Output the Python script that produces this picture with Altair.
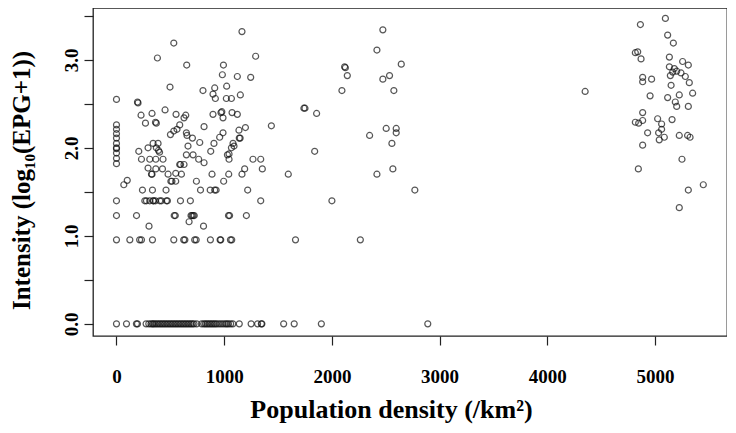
import altair as alt
import pandas as pd

# ---- data ----
# points with intensity 0
zero_x = [0, 93, 185, 195, 275, 300, 320, 335, 345, 360, 375, 390, 405, 420, 435, 450, 465,
          480, 495, 510, 525, 540, 555, 570, 585, 600, 615, 630, 645, 660, 675, 690, 705,
          720, 745, 790, 810, 825, 840, 855, 870, 885, 900, 915, 930, 950, 970, 990, 1010,
          1025, 1040, 1060, 1080, 1140, 1250, 1310, 1345, 1350, 1552, 1650, 1902, 2890]
# rows of repeated intensity levels
row095_x = [0, 124, 215, 232, 334, 532, 624, 635, 726, 740, 872, 962, 968, 1058, 1070, 1662, 2264]
row123_x = [0, 186, 536, 546, 692, 702, 712, 722, 1040, 1050, 1206]
row140_x = [0, 263, 278, 309, 340, 345, 362, 402, 417, 464, 473, 594, 686, 1339, 2000]
row152_x = [241, 334, 460, 780, 870, 912, 925, 1218, 2770]
# stack at density 0
stack0_y = [2.55, 2.26, 2.21, 2.16, 2.11, 2.05, 2.0, 1.99, 1.94, 1.88, 1.82]

# low-density scatter
low_x = [302, 674, 808, 68, 100, 325, 330, 479, 550, 603, 887, 1042, 1165,
         505, 515, 550, 742, 995, 293, 365, 427, 1190, 1354, 587, 595, 627, 813,
         232, 309, 365, 432, 763, 1045, 1267, 1339, 649, 711, 1030, 1045, 207, 875,
         293, 370, 390, 400, 664, 1067, 1091, 340, 386, 773, 905, 1082,
         705, 958, 1140, 1148, 501, 649, 655, 989, 532, 562, 1137, 1197, 813, 1438,
         269, 362, 370, 587, 627, 989, 228, 330, 451, 553, 643, 896, 970, 978, 1073, 1122,
         195, 200, 918, 1020, 1067, 497, 803, 912, 896, 1023, 1150,
         983, 1122, 1246, 652, 993, 1292, 380, 532, 1165]
low_y = [1.11, 1.16, 1.11, 1.58, 1.63, 1.70, 1.70, 1.70, 1.71, 1.70, 1.70, 1.70, 1.70,
         1.62, 1.62, 1.62, 1.62, 1.62, 1.77, 1.76, 1.76, 1.76, 1.76, 1.81, 1.81, 1.81, 1.83,
         1.87, 1.87, 1.87, 1.87, 1.87, 1.87, 1.87, 1.87, 1.92, 1.92, 1.92, 1.93, 1.96, 1.96,
         2.0, 2.0, 1.97, 1.95, 2.02, 2.0, 2.02, 2.05, 2.05, 2.06, 2.05, 2.05,
         2.11, 2.12, 2.11, 2.11, 2.15, 2.17, 2.14, 2.17, 2.19, 2.21, 2.20, 2.23, 2.24, 2.25,
         2.28, 2.29, 2.28, 2.26, 2.34, 2.34, 2.37, 2.39, 2.43, 2.38, 2.37, 2.38, 2.40, 2.41, 2.40, 2.38,
         2.52, 2.51, 2.56, 2.56, 2.56, 2.69, 2.65, 2.68, 2.61, 2.70, 2.60,
         2.83, 2.81, 2.80, 2.94, 2.94, 3.04, 3.02, 3.19, 3.32]

# middle-density scatter
mid_x = [1595, 1740, 1750, 1858, 1840, 2093, 2118, 2125, 2143, 2350, 2418, 2418, 2473,
         2473, 2535, 2575, 2504, 2597, 2597, 2557, 2566, 2644, 4351]
mid_y = [1.70, 2.45, 2.45, 2.39, 1.96, 2.65, 2.92, 2.91, 2.82, 2.14, 1.70, 3.11, 3.34,
         2.78, 2.82, 2.65, 2.22, 2.22, 2.17, 2.05, 1.76, 2.95, 2.64]

# high-density cluster
high_x = [5096, 4864, 5117, 5170, 4817, 4839, 4870, 5133, 5256, 5309,
          5133, 5179, 5201, 5164, 5241, 5281, 5142, 4885, 4885, 4968, 5318, 5149,
          5349, 5225, 4954, 5117, 5188, 5201, 5309, 4885, 4817, 4848, 4885, 5024,
          5061, 5158, 5061, 5033, 5039, 5086, 4931, 5225, 5302, 5325, 4885, 5250,
          4845, 5448, 5309, 5225]
high_y = [3.47, 3.40, 3.28, 3.19, 3.08, 3.09, 3.01, 3.03, 2.98, 2.94,
          2.92, 2.90, 2.87, 2.86, 2.85, 2.81, 2.82, 2.80, 2.75, 2.78, 2.74, 2.71,
          2.62, 2.60, 2.59, 2.57, 2.52, 2.47, 2.47, 2.40, 2.29, 2.28, 2.31, 2.33,
          2.27, 2.32, 2.21, 2.17, 2.09, 2.12, 2.17, 2.14, 2.14, 2.12, 2.03, 1.87,
          1.76, 1.58, 1.52, 1.32]

x_ticks = [0, 1000, 2000, 3000, 4000, 5000]
y_ticks = [0, 0.5, 1.0, 1.5, 2.0, 2.5, 3.0, 3.5]

# ---- assemble ----
xs, ys = [], []
xs += zero_x; ys += [0.0] * len(zero_x)
xs += row095_x; ys += [0.954] * len(row095_x)
xs += row123_x; ys += [1.23] * len(row123_x)
xs += row140_x; ys += [1.398] * len(row140_x)
xs += row152_x; ys += [1.52] * len(row152_x)
xs += [0] * len(stack0_y); ys += stack0_y
xs += low_x; ys += low_y
xs += mid_x; ys += mid_y
xs += high_x; ys += high_y
df = pd.DataFrame({"density": xs, "intensity": ys})

FONT = "Liberation Serif"

chart = alt.Chart(df).mark_point(
    shape="circle", filled=False, color="#111111", size=36, strokeWidth=1.2
).encode(
    x=alt.X("density:Q",
            scale=alt.Scale(domain=[-218, 5668], nice=False, zero=False),
            axis=alt.Axis(values=x_ticks, title="Population density (/km²)",
                          format="d", labelPadding=22, titlePadding=10, titleX=298)),
    y=alt.Y("intensity:Q",
            scale=alt.Scale(domain=[-0.138, 3.588], nice=False, zero=False),
            axis=alt.Axis(values=y_ticks, title="Intensity (log₁₀(EPG+1))",
                          labelExpr="datum.value % 1 == 0 ? format(datum.value, '.1f') : ''",
                          labelAngle=-90, labelPadding=3, titlePadding=28, titleY=172,
                          titleFontSize=25)),
).properties(
    width=634, height=328,
    padding={"left": 85, "top": 0, "right": 0, "bottom": 89},
    autosize=alt.AutoSizeParams(type="none"),
).configure_view(
    stroke="#222222", strokeWidth=1.3
).configure_axis(
    grid=False, domain=False, ticks=True, tickSize=9, tickColor="#222222", tickWidth=1.2,
    labelFont=FONT, labelFontSize=19, labelFontWeight="bold", labelColor="black",
    titleFont=FONT, titleFontSize=26, titleFontWeight="bold", titleColor="black",
)

chart.save("out.html", embed_options={"renderer": "svg", "actions": False})
